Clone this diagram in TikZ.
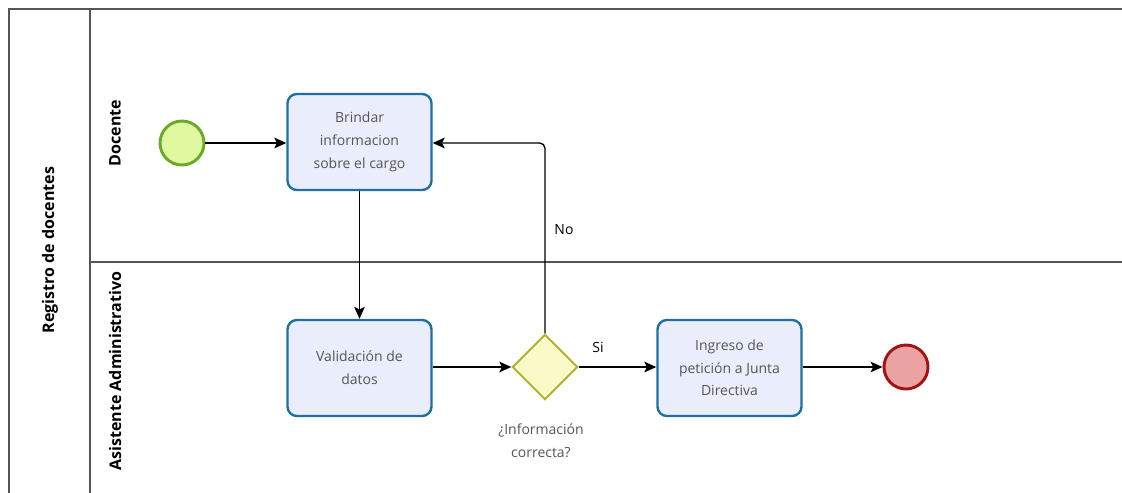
\documentclass[tikz,border=0pt]{standalone}
\usepackage{fontspec}
\setmainfont{Open Sans}
\usepackage{tikz}
\usetikzlibrary{arrows,arrows.meta,shapes.geometric}

\definecolor{taskfill}{HTML}{EAEEFC}
\definecolor{taskline}{HTML}{1F6FA0}
\definecolor{startfill}{HTML}{E0F8A0}
\definecolor{startline}{HTML}{6AAA2A}
\definecolor{endfill}{HTML}{EBA2A2}
\definecolor{endline}{HTML}{A01414}
\definecolor{gatefill}{HTML}{FAFAC8}
\definecolor{gateline}{HTML}{B0B030}
\definecolor{poolline}{HTML}{555555}
\definecolor{txt}{HTML}{555555}

\tikzset{
  task/.style={draw=taskline, fill=taskfill, line width=1.8pt, rounded corners=7pt,
    minimum width=108pt, minimum height=72pt, align=center, text=txt,
    font=\fontsize{10.5}{17}\selectfont},
  startev/.style={circle, draw=startline, fill=startfill, line width=2.2pt, minimum size=33pt},
  endev/.style={circle, draw=endline, fill=endfill, line width=2.2pt, minimum size=33pt},
  gate/.style={diamond, draw=gateline, fill=gatefill, line width=1.5pt, minimum size=49pt, inner sep=0pt},
  lane/.style={rotate=90, font=\fontsize{12}{14}\selectfont\bfseries},
  flow/.style={-{Stealth[length=9pt,width=8pt,inset=2pt]}, line width=1pt},
  lbl/.style={text=black, font=\fontsize{10.5}{12}\selectfont}
}

\begin{document}
\begin{tikzpicture}[x=0.75pt, y=-0.75pt]
\useasboundingbox (0,0) rectangle (1122,493);
% pool and lanes
\draw[poolline, line width=1pt] (9,493) -- (9,9) -- (1122,9);
\draw[poolline, line width=1pt] (90,9) -- (90,493);
\draw[poolline, line width=1pt] (90,262) -- (1122,262);
\node[lane] (pool) at (50,250) {Registro de docentes};
\node[lane] (docente) at (115,133) {Docente};
\node[lane] (asist) at (115,371) {Asistente Administrativo};

% shapes
\node[startev] (start) at (182,143) {};
\node[task] (brindar) at (359.5,142) {Brindar\\informacion\\sobre el cargo};
\node[task] (valid) at (359.5,368) {Validación de\\datos};
\node[gate] (gw) at (545,367) {};
\node[task] (ingreso) at (729.5,368) {Ingreso de\\petición a Junta\\Directiva};
\node[endev] (fin) at (906,367) {};
\node[lbl, text=txt, align=center, font=\fontsize{10.5}{17}\selectfont] (pregunta) at (541,441) {¿Información\\correcta?};

% flows
\draw[flow] (start) -- (brindar.west |- start);
\draw[flow] (brindar) -- (valid);
\draw[flow] (valid.east |- gw) -- (gw);
\draw[flow] (gw) -- node[lbl, above, pos=0.25, yshift=7pt] (si) {Si} (ingreso.west |- gw);
\draw[flow] (ingreso.east |- fin) -- (fin);
\draw[flow, rounded corners=4pt] (gw.north) -- (gw.north |- start) -- (brindar.east |- start);
\node[lbl] (no) at (564,230) {No};
\end{tikzpicture}
\end{document}
